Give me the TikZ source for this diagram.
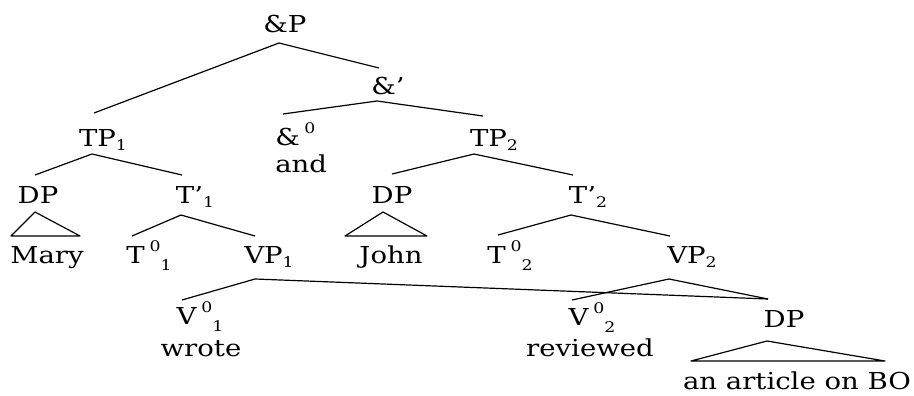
\documentclass[tikz,border=0pt]{standalone}
\usepackage{fontspec}
\setmainfont{DejaVu Serif}[FakeStretch=1.18]
\newcommand\lsub[1]{\raisebox{-0.2em}{\fontsize{11}{11}\selectfont #1}}
\newcommand\lsupsub[2]{\hspace{0.2em}\raisebox{0.5em}{\fontsize{11}{11}\selectfont #1}\raisebox{-0.3em}{\fontsize{11}{11}\selectfont #2}}
\begin{document}
\begin{tikzpicture}[x=0.75pt,y=-0.75pt,
  lbl/.style={anchor=base,inner sep=0pt,font=\fontsize{17.5}{20}\selectfont},
  edge/.style={line width=0.9pt,line join=round}]
\useasboundingbox (0,0) rectangle (914,396);
% labels
\node[lbl] (aP) at (285,32) {\&P};
\node[lbl] (aBar) at (388,94) {\&’};
\node[lbl,anchor=base west] (a0) at (275,145) {\&\lsupsub{0}{}};
\node[lbl,anchor=base west] (and) at (275,172) {and};
\node[lbl] (TP1) at (103,146) {TP\lsub{1}};
\node[lbl] (TP2) at (494,146) {TP\lsub{2}};
\node[lbl] (DP1) at (38,203) {DP};
\node[lbl] (Tb1) at (195,203) {T’\lsub{1}};
\node[lbl] (DP2) at (392,203) {DP};
\node[lbl] (Tb2) at (588,203) {T’\lsub{2}};
\node[lbl] (Mary) at (47,263) {Mary};
\node[lbl] (T01) at (149,263) {T\lsupsub{0}{1}};
\node[lbl] (VP1) at (269,263) {VP\lsub{1}};
\node[lbl] (John) at (391,263) {John};
\node[lbl] (T02) at (510,263) {T\lsupsub{0}{2}};
\node[lbl] (VP2) at (692,263) {VP\lsub{2}};
\node[lbl] (V01) at (200,324) {V\lsupsub{0}{1}};
\node[lbl] (wrote) at (201,356) {wrote};
\node[lbl] (V02) at (592,325) {V\lsupsub{0}{2}};
\node[lbl] (rev) at (590,356) {reviewed};
\node[lbl] (DP3) at (784,327) {DP};
\node[lbl] (art) at (797,389) {an article on BO};
% connector end points
\coordinate (aP-d) at (279,43);
\coordinate (TP1-u) at (94,113);
\coordinate (aBar-u) at (379,68);
\coordinate (aBar-d) at (377,101);
\coordinate (a0-u) at (283,114);
\coordinate (TP2-u) at (483,116);
\coordinate (TP1-d) at (92,154);
\coordinate (DP1-u) at (35,175);
\coordinate (Tb1-u) at (182,175);
\coordinate (TP2-d) at (474,154);
\coordinate (DP2-u) at (392,174);
\coordinate (Tb2-u) at (573,175);
\coordinate (DP1-d) at (35,212);
\coordinate (Mary-l) at (11,236);
\coordinate (Mary-r) at (80,236);
\coordinate (Tb1-d) at (181,215);
\coordinate (T01-u) at (132,236);
\coordinate (VP1-u) at (255,236);
\coordinate (DP2-d) at (383,212);
\coordinate (John-l) at (345,236);
\coordinate (John-r) at (427,236);
\coordinate (Tb2-d) at (571,215);
\coordinate (T02-u) at (498,235);
\coordinate (VP2-u) at (670,236);
\coordinate (VP1-d) at (255,279);
\coordinate (V01-u) at (182,300);
\coordinate (DP3-u) at (768,299);
\coordinate (VP2-d) at (669,279);
\coordinate (V02-u) at (572,300);
\coordinate (DP3-d) at (767,341);
\coordinate (art-l) at (691,361);
\coordinate (art-r) at (885,361);
% connectors
\draw[edge] (TP1-u) -- (aP-d) -- (aBar-u);
\draw[edge] (a0-u) -- (aBar-d) -- (TP2-u);
\draw[edge] (DP1-u) -- (TP1-d) -- (Tb1-u);
\draw[edge] (DP2-u) -- (TP2-d) -- (Tb2-u);
\draw[edge] (DP1-d) -- (Mary-l) -- (Mary-r) -- cycle;
\draw[edge] (T01-u) -- (Tb1-d) -- (VP1-u);
\draw[edge] (DP2-d) -- (John-l) -- (John-r) -- cycle;
\draw[edge] (T02-u) -- (Tb2-d) -- (VP2-u);
\draw[edge] (V01-u) -- (VP1-d) -- (DP3-u);
\draw[edge] (V02-u) -- (VP2-d) -- (DP3-u);
\draw[edge] (DP3-d) -- (art-l) -- (art-r) -- cycle;
\end{tikzpicture}
\end{document}
